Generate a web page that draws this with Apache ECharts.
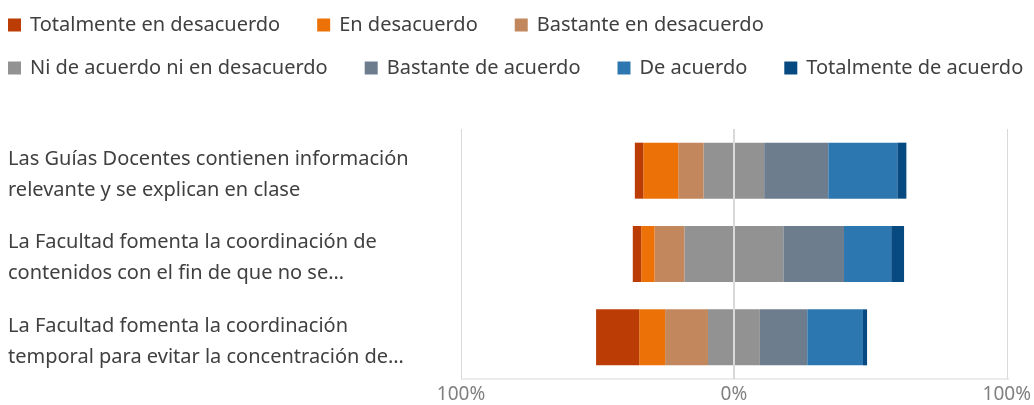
<!DOCTYPE html>
<html>
<head>
<meta charset="utf-8">
<script src="https://cdn.jsdelivr.net/npm/echarts@6/dist/echarts.min.js"></script>
<style>
  html, body { margin: 0; padding: 0; background: #fff; }
  #chart { width: 1034px; height: 405px; }
</style>
</head>
<body>
<div id="chart"></div>
<script>
const categories = [
    'Las Guías Docentes contienen información\nrelevante y se explican en clase',
    'La Facultad fomenta la coordinación de\ncontenidos con el fin de que no se…',
    'La Facultad fomenta la coordinación\ntemporal para evitar la concentración de…'
];

// percentages per category (top to bottom)
const totalmente_desacuerdo = [3.1, 3.1, 15.8];
const en_desacuerdo = [12.8, 4.9, 9.5];
const bastante_desacuerdo = [9.3, 10.9, 15.7];
const neutral = [22.2, 36.3, 19.0];
const bastante_acuerdo = [23.5, 22.2, 17.4];
const de_acuerdo = [25.3, 17.3, 20.4];
const totalmente_acuerdo = [3.3, 4.7, 1.5];

const axis_ticks = [-100, 0, 100];

const NAME_TD = 'Totalmente en desacuerdo';
const NAME_D = 'En desacuerdo';
const NAME_BD = 'Bastante en desacuerdo';
const NAME_N = 'Ni de acuerdo ni en desacuerdo';
const NAME_BA = 'Bastante de acuerdo';
const NAME_A = 'De acuerdo';
const NAME_TA = 'Totalmente de acuerdo';

const COLORS = {};
COLORS[NAME_TD] = '#BC3C05';
COLORS[NAME_D] = '#EC7208';
COLORS[NAME_BD] = '#C2875C';
COLORS[NAME_N] = '#929292';
COLORS[NAME_BA] = '#6E7D8D';
COLORS[NAME_A] = '#2C77AF';
COLORS[NAME_TA] = '#074A82';

const FONT = '"Noto Sans", "Open Sans", sans-serif';

function negate(arr) {
    return arr.map(function (v) { return -v; });
}

function half(arr, sign) {
    return arr.map(function (v) { return sign * v / 2; });
}

function bar(name, data) {
    return {
        name: name,
        type: 'bar',
        stack: 'total',
        barWidth: 56,
        itemStyle: { color: COLORS[name] },
        emphasis: { disabled: true },
        data: data
    };
}

let series = [
    bar(NAME_N, half(neutral, -1)),
    bar(NAME_N, half(neutral, 1)),
    bar(NAME_BD, negate(bastante_desacuerdo)),
    bar(NAME_BA, bastante_acuerdo),
    bar(NAME_D, negate(en_desacuerdo)),
    bar(NAME_A, de_acuerdo),
    bar(NAME_TD, negate(totalmente_desacuerdo)),
    bar(NAME_TA, totalmente_acuerdo)
];

// zero line drawn on top of the bars
series[series.length - 1].markLine = {
    silent: true,
    symbol: 'none',
    label: { show: false },
    lineStyle: { color: '#d9d9d9', width: 2, type: 'solid' },
    data: [{ xAxis: 0 }]
};

let legend_common = {
    left: 8,
    padding: 0,
    icon: 'rect',
    itemWidth: 13,
    itemHeight: 13,
    itemGap: 37,
    selectedMode: false,
    textStyle: {
        fontFamily: FONT,
        fontSize: 20,
        color: '#404040',
        padding: [0, 0, 0, 4]
    }
};

let chart = echarts.init(document.getElementById('chart'));

chart.setOption({
    animation: false,
    legend: [
        Object.assign({}, legend_common, { top: 15, data: [NAME_TD, NAME_D, NAME_BD] }),
        Object.assign({}, legend_common, { top: 58, data: [NAME_N, NAME_BA, NAME_A, NAME_TA] })
    ],
    grid: {
        left: 461,
        right: 25,
        top: 129,
        bottom: 26
    },
    xAxis: {
        type: 'value',
        min: axis_ticks[0],
        max: axis_ticks[axis_ticks.length - 1],
        interval: 100,
        axisLine: { show: false },
        axisTick: { show: false },
        splitLine: { show: true, lineStyle: { color: '#d9d9d9', width: 1 } },
        axisLabel: {
            fontFamily: FONT,
            fontSize: 19,
            color: '#808080',
            margin: 6,
            formatter: function (v) { return Math.abs(v) + '%'; }
        }
    },
    yAxis: {
        type: 'category',
        inverse: true,
        data: categories,
        axisLine: { show: false },
        axisTick: { show: false },
        axisLabel: {
            fontFamily: FONT,
            fontSize: 20,
            color: '#404040',
            align: 'left',
            margin: 453,
            // small blank line on top pushes the two text lines slightly down
            formatter: function (v) {
                return '{s| }\n' + v.split('\n').map(function (l) {
                    return '{t|' + l + '}';
                }).join('\n');
            },
            rich: {
                s: { fontSize: 6, lineHeight: 8 },
                t: { fontFamily: FONT, fontSize: 20, color: '#404040', lineHeight: 31 }
            }
        }
    },
    series: series
});

// bottom border line of the plot
chart.setOption({
    graphic: [{
        type: 'line',
        shape: { x1: 461, y1: 379, x2: 1009, y2: 379 },
        style: { stroke: '#d9d9d9', lineWidth: 1 },
        silent: true
    }]
});
</script>
</body>
</html>
